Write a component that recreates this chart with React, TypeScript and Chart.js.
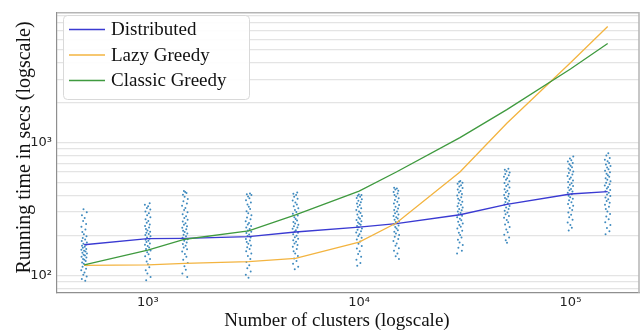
import React, { useEffect, useRef } from "react";
import Chart from "chart.js/auto";

// ---- data ----
const CLUSTERS = [500, 1000, 1500, 3000, 5000, 10000, 15000, 30000, 50000, 100000, 150000];

const DISTRIBUTED = [170, 189, 190, 196, 212, 231, 245, 286, 343, 410, 427];
const LAZY_GREEDY = [119, 120, 123, 127, 134, 178, 248, 600, 1400, 4000, 7500];
const CLASSIC_GREEDY = [120, 155, 187, 216, 285, 431, 600, 1090, 1770, 3580, 5570];

const SERIES_NAMES = ["Distributed", "Lazy Greedy", "Classic Greedy"];
const SERIES_COLORS = ["#3a3ad2", "#f3b440", "#3f9a3f"];

// individual run times per cluster count (scatter)
const SAMPLES_500 = [91, 94, 98, 101, 105, 109, 112, 116, 119, 122, 125, 128, 131, 133, 136, 138, 141, 143, 146, 148, 151, 153, 156, 158, 161, 164, 167, 170, 173, 177, 181, 186, 191, 197, 204, 212, 221, 232, 244, 257, 270, 284, 299, 314];
const SAMPLES_1000 = [92, 97, 103, 109, 115, 121, 127, 133, 139, 144, 149, 154, 158, 162, 166, 170, 174, 178, 182, 185, 189, 193, 197, 201, 205, 209, 213, 218, 223, 229, 235, 242, 249, 257, 265, 274, 283, 293, 303, 313, 322, 331, 340, 349];
const SAMPLES_1500 = [97, 103, 110, 117, 124, 131, 138, 145, 151, 157, 162, 167, 172, 177, 182, 187, 192, 197, 202, 207, 212, 217, 222, 228, 234, 240, 247, 254, 262, 270, 279, 289, 299, 310, 322, 335, 348, 362, 376, 390, 404, 417, 424, 431];
const SAMPLES_3000 = [96, 101, 107, 113, 119, 126, 133, 140, 146, 152, 158, 163, 168, 173, 178, 183, 188, 193, 198, 203, 208, 213, 218, 223, 229, 235, 241, 248, 256, 264, 273, 283, 293, 304, 316, 328, 341, 354, 367, 380, 392, 402, 408, 414];
const SAMPLES_5000 = [111, 116, 122, 128, 134, 140, 146, 152, 158, 164, 169, 174, 179, 184, 189, 194, 199, 204, 209, 214, 219, 224, 229, 234, 240, 246, 252, 259, 266, 274, 282, 291, 300, 310, 320, 331, 342, 354, 366, 378, 390, 402, 412, 421];
const SAMPLES_10000 = [118, 124, 131, 138, 145, 152, 159, 166, 173, 180, 186, 192, 198, 204, 210, 215, 220, 225, 230, 235, 240, 245, 250, 255, 261, 267, 273, 280, 287, 295, 303, 311, 320, 329, 338, 347, 356, 365, 374, 383, 391, 398, 403, 407];
const SAMPLES_15000 = [133, 139, 146, 153, 160, 167, 174, 181, 188, 195, 201, 207, 213, 219, 225, 231, 237, 242, 247, 252, 257, 262, 268, 274, 280, 287, 294, 302, 310, 319, 328, 338, 348, 359, 370, 381, 392, 403, 414, 424, 434, 443, 450, 456];
const SAMPLES_30000 = [146, 153, 161, 169, 177, 185, 193, 201, 209, 217, 225, 232, 239, 246, 253, 260, 267, 274, 281, 288, 295, 302, 309, 316, 324, 332, 340, 349, 358, 368, 378, 388, 399, 410, 421, 432, 443, 455, 467, 478, 489, 499, 507, 514];
const SAMPLES_50000 = [176, 184, 193, 202, 211, 221, 231, 241, 251, 261, 271, 280, 289, 298, 307, 316, 325, 333, 341, 349, 357, 365, 374, 383, 392, 402, 412, 423, 434, 446, 458, 471, 484, 497, 511, 525, 539, 553, 567, 581, 595, 609, 623, 636];
const SAMPLES_100000 = [218, 228, 239, 250, 262, 274, 286, 298, 310, 322, 334, 345, 356, 367, 378, 388, 398, 408, 418, 428, 438, 448, 459, 470, 481, 493, 505, 518, 531, 545, 559, 574, 589, 605, 621, 637, 653, 669, 686, 703, 720, 737, 760, 786];
const SAMPLES_150000 = [204, 215, 227, 239, 251, 264, 277, 290, 303, 316, 328, 340, 352, 363, 374, 385, 396, 407, 418, 429, 440, 451, 462, 474, 486, 498, 511, 524, 538, 552, 567, 582, 598, 614, 631, 648, 666, 684, 703, 722, 742, 765, 798, 832];
const SAMPLES = [SAMPLES_500, SAMPLES_1000, SAMPLES_1500, SAMPLES_3000, SAMPLES_5000, SAMPLES_10000, SAMPLES_15000, SAMPLES_30000, SAMPLES_50000, SAMPLES_100000, SAMPLES_150000];

// horizontal strip-plot jitter (multiplicative, hand-listed)
const JITTER = [1.012, 0.975, 1.028, 0.991, 1.004, 0.969, 1.021, 0.983, 1.031, 0.996, 0.978, 1.017, 1.002, 0.988, 1.025, 0.972, 1.009, 0.994, 1.031, 0.981, 1.015, 0.999, 0.970, 1.023, 0.986, 1.007, 0.977, 1.019, 0.992, 1.030, 0.974, 1.011, 0.985, 1.026, 0.997, 0.980, 1.014, 0.971, 1.022, 0.989, 1.006, 0.976, 1.029, 0.993];

// ticks / grid
const X_TICKS = [1000, 10000, 100000];
const X_TICK_LABELS = ["10³", "10⁴", "10⁵"];
const Y_GRID = [80, 90, 100, 200, 300, 400, 500, 600, 700, 800, 900, 1000, 2000, 3000, 4000, 5000, 6000, 7000, 8000, 9000];
const Y_TICK_VALUES = [100, 1000];
const Y_TICK_LABELS = ["10²", "10³"];
const X_MIN = 372;
const X_MAX = 211000;
const Y_MIN = 73.6;
const Y_MAX = 9500;

const X_TITLE = "Number of clusters (logscale)";
const Y_TITLE = "Running time in secs (logscale)";

const decorPlugin = {
  id: "decor",
  beforeDatasetsDraw(chart: any) {
    const { ctx, chartArea: a } = chart;
    ctx.save();
    ctx.strokeStyle = "#b5b5b5";
    ctx.lineWidth = 1.5;
    ctx.beginPath();
    ctx.moveTo(a.left, a.top);
    ctx.lineTo(a.right, a.top);
    ctx.lineTo(a.right, a.bottom);
    ctx.stroke();
    ctx.restore();
  },
  afterDraw(chart: any) {
    const { ctx } = chart;
    ctx.save();
    // legend box
    ctx.beginPath();
    (ctx as any).roundRect(63.5, 15.5, 186, 84, 4);
    ctx.fillStyle = "rgba(255,255,255,0.9)";
    ctx.fill();
    ctx.strokeStyle = "#d9d9d9";
    ctx.lineWidth = 1;
    ctx.stroke();
    ctx.font = "19px 'Liberation Serif'";
    ctx.textBaseline = "middle";
    ctx.textAlign = "left";
    SERIES_NAMES.forEach((name, i) => {
      const yy = 29.5 + i * 25.5;
      ctx.strokeStyle = SERIES_COLORS[i];
      ctx.lineWidth = 1.5;
      ctx.beginPath();
      ctx.moveTo(69, yy);
      ctx.lineTo(105, yy);
      ctx.stroke();
      ctx.fillStyle = "#111";
      ctx.fillText(name, 111, yy + 1);
    });
    // axis titles
    ctx.fillStyle = "#111";
    ctx.textAlign = "center";
    ctx.textBaseline = "alphabetic";
    ctx.font = "19px 'Liberation Serif'";
    ctx.fillText(X_TITLE, 337, 325.5);
    ctx.translate(30, 147.5);
    ctx.rotate(-Math.PI / 2);
    ctx.font = "20px 'Liberation Serif'";
    ctx.fillText(Y_TITLE, 0, 0);
    ctx.restore();
  },
};

export default function App() {
  const ref = useRef<HTMLCanvasElement | null>(null);
  useEffect(() => {
    if (!ref.current) return;
    const scatter: { x: number; y: number }[] = [];
    CLUSTERS.forEach((c, ci) => {
      SAMPLES[ci].forEach((v, i) => scatter.push({ x: c * JITTER[(i + ci * 7) % JITTER.length], y: v }));
    });
    const lineSets = [DISTRIBUTED, LAZY_GREEDY, CLASSIC_GREEDY].map((vals, i) => ({
      type: "line" as const,
      label: SERIES_NAMES[i],
      data: CLUSTERS.map((c, k) => ({ x: c, y: vals[k] })),
      borderColor: SERIES_COLORS[i],
      backgroundColor: SERIES_COLORS[i],
      borderWidth: 1.3,
      pointRadius: 0,
      tension: 0,
      fill: false,
      order: 3 - i,
    }));
    const chart = new Chart(ref.current, {
      type: "scatter",
      data: {
        datasets: [
          ...lineSets,
          {
            type: "scatter" as const,
            label: "runs",
            data: scatter,
            pointRadius: 1,
            pointBorderWidth: 0,
            backgroundColor: "rgba(31,119,180,0.85)",
            borderColor: "rgba(31,119,180,0.85)",
            order: 10,
          },
        ],
      } as any,
      options: {
        animation: false,
        responsive: true,
        maintainAspectRatio: false,
        events: [],
        layout: { padding: { left: 0, top: 8, right: 2, bottom: 0 } },
        plugins: { legend: { display: false }, tooltip: { enabled: false } },
        scales: {
          x: {
            type: "logarithmic",
            min: X_MIN,
            max: X_MAX,
            afterFit: (s: any) => { s.height = 38; },
            afterBuildTicks: (s: any) => { s.ticks = X_TICKS.map((v) => ({ value: v })); },
            grid: { display: false, drawTicks: false },
            border: { display: true, color: "#8f8f8f", width: 1.2 },
            ticks: {
              autoSkip: false,
              maxRotation: 0,
              padding: 2,
              color: "#222",
              font: { family: "'DejaVu Sans'", size: 13 },
              callback: (v: any) => {
                const i = X_TICKS.indexOf(Number(v));
                return i >= 0 ? X_TICK_LABELS[i] : "";
              },
            },
          },
          y: {
            type: "logarithmic",
            min: Y_MIN,
            max: Y_MAX,
            afterFit: (s: any) => { s.width = 57; },
            afterBuildTicks: (s: any) => { s.ticks = Y_GRID.map((v) => ({ value: v })); },
            grid: { display: true, drawTicks: false, color: "#e4e4e4", lineWidth: 1.2 },
            border: { display: true, color: "#8f8f8f", width: 1.2 },
            ticks: {
              autoSkip: false,
              padding: 5,
              color: "#222",
              font: { family: "'DejaVu Sans'", size: 13 },
              callback: (v: any) => {
                const i = Y_TICK_VALUES.indexOf(Number(v));
                return i >= 0 ? Y_TICK_LABELS[i] : "";
              },
            },
          },
        },
      } as any,
      plugins: [decorPlugin],
    });
    return () => chart.destroy();
  }, []);
  return (
    <div style={{ position: "fixed", left: 0, top: 0, width: 643, height: 331, background: "#fff" }}>
      <canvas ref={ref} />
    </div>
  );
}
